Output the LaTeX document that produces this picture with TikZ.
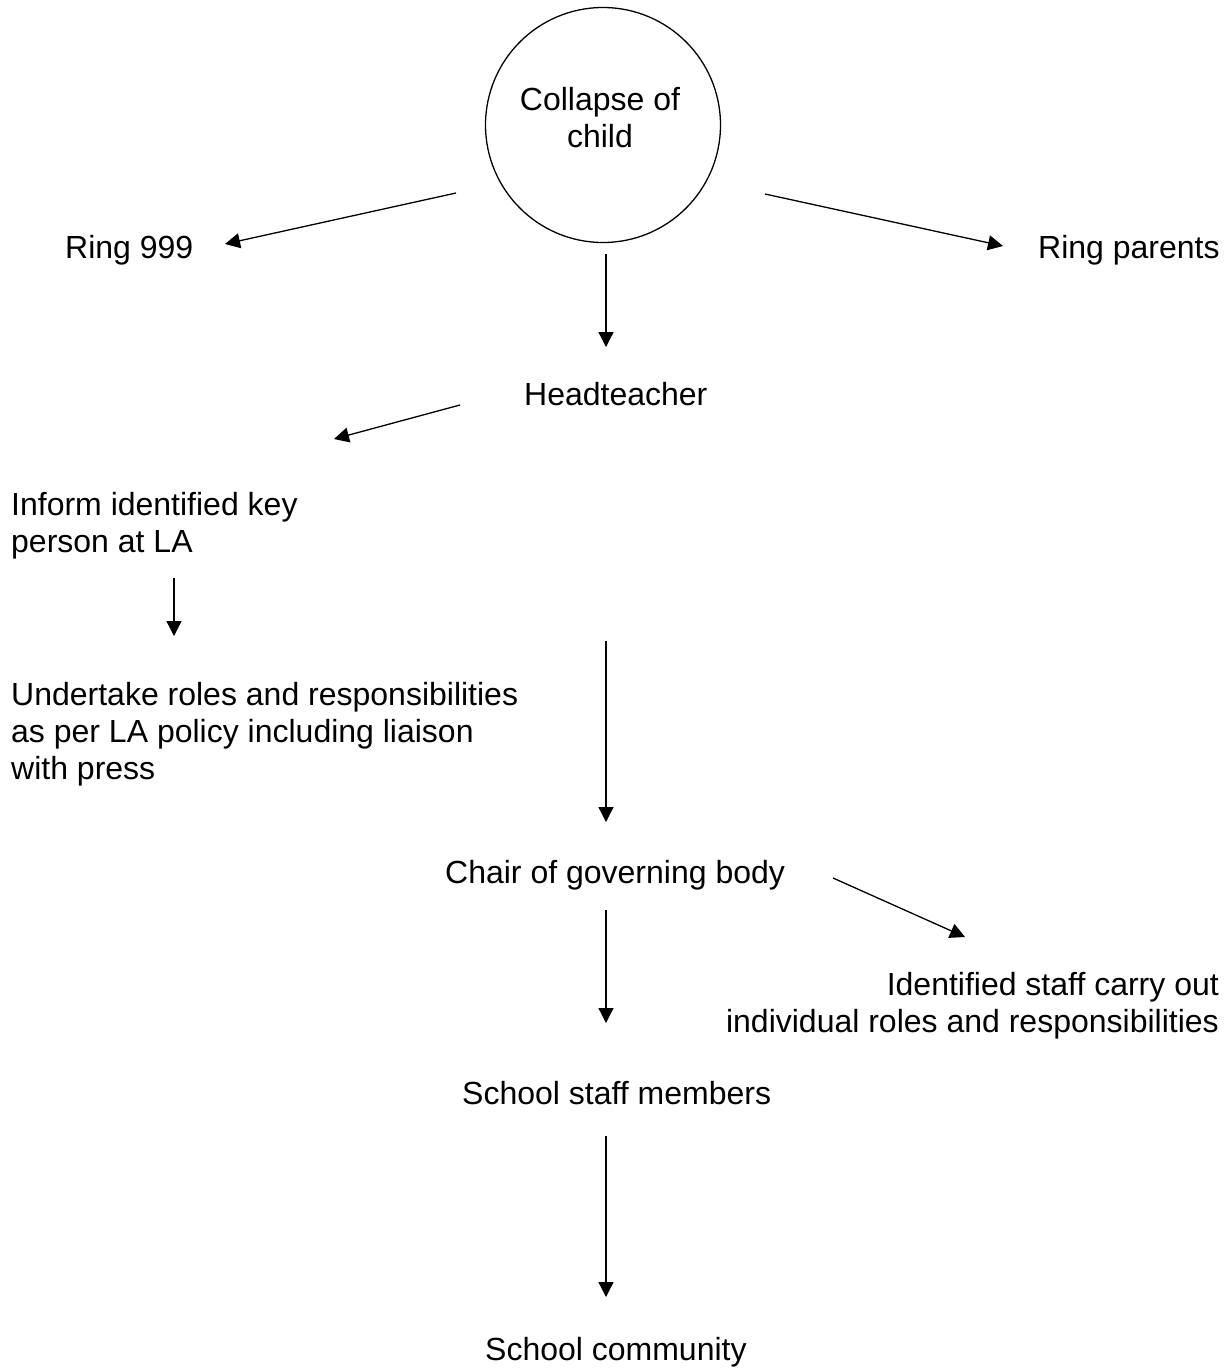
\documentclass[tikz,border=0pt]{standalone}
\usepackage{fontspec}
\setmainfont{Liberation Sans}
\usetikzlibrary{arrows.meta}
\newcommand{\blk}[2]{\begin{tabular}[t]{@{}#1@{}}#2\end{tabular}}
\begin{document}
\begin{tikzpicture}[x=1pt,y=-1pt,
  txt/.style={inner sep=0pt,font=\fontsize{32}{37}\selectfont},
  arr/.style={line width=1.3pt,-{Triangle[length=15pt,width=15pt]}},
  ring/.style={circle,draw,line width=1.3pt,minimum size=235pt,inner sep=0pt}]
\fill[white] (0,0) rectangle (1232,1369);
\useasboundingbox (0,0) rectangle (1232,1369);
% nodes
\node[ring] (collapse) at (603,125) {};
\node[txt,anchor=base] (collapsetxt) at (600,110) {\blk{c}{Collapse of\\child}};
\node[txt,anchor=base west] (ring999) at (65,258) {Ring 999};
\node[txt,anchor=base west] (ringpar) at (1038,258) {Ring parents};
\node[txt,anchor=base west] (head) at (524,405) {Headteacher};
\node[txt,anchor=base west] (inform) at (11,515) {\blk{l}{Inform identified key\\person at LA}};
\node[txt,anchor=base west] (undertake) at (11,705) {\blk{l}{Undertake roles and responsibilities\\as per LA policy including liaison\\with press}};
\node[txt,anchor=base west] (chair) at (445,883) {Chair of governing body};
\node[txt,anchor=base east] (identified) at (1219,995) {\blk{r}{Identified staff carry out\\individual roles and responsibilities}};
\node[txt,anchor=base west] (staff) at (462,1104) {School staff members};
\node[txt,anchor=base west] (community) at (485,1360) {School community};
% connector end points
\coordinate (c-w) at (456,193);   \coordinate (r999-in) at (225,244);
\coordinate (c-e) at (765,194);   \coordinate (rpar-in) at (1003,246);
\coordinate (c-s) at (606,254);   \coordinate (head-in) at (606,347);
\coordinate (head-w) at (460,405); \coordinate (inform-in) at (334,439);
\coordinate (inform-s) at (174,578); \coordinate (under-in) at (174,636);
\coordinate (head-s) at (606,641); \coordinate (chair-in) at (606,822);
\coordinate (chair-e) at (833,878); \coordinate (ident-in) at (965,937);
\coordinate (chair-s) at (606,910); \coordinate (staff-in) at (606,1023);
\coordinate (staff-s) at (606,1136); \coordinate (comm-in) at (606,1297);
% connectors
\draw[arr] (c-w) -- (r999-in);
\draw[arr] (c-e) -- (rpar-in);
\draw[arr] (c-s) -- (head-in);
\draw[arr] (head-w) -- (inform-in);
\draw[arr] (inform-s) -- (under-in);
\draw[arr] (head-s) -- (chair-in);
\draw[arr] (chair-e) -- (ident-in);
\draw[arr] (chair-s) -- (staff-in);
\draw[arr] (staff-s) -- (comm-in);
\end{tikzpicture}
\end{document}
